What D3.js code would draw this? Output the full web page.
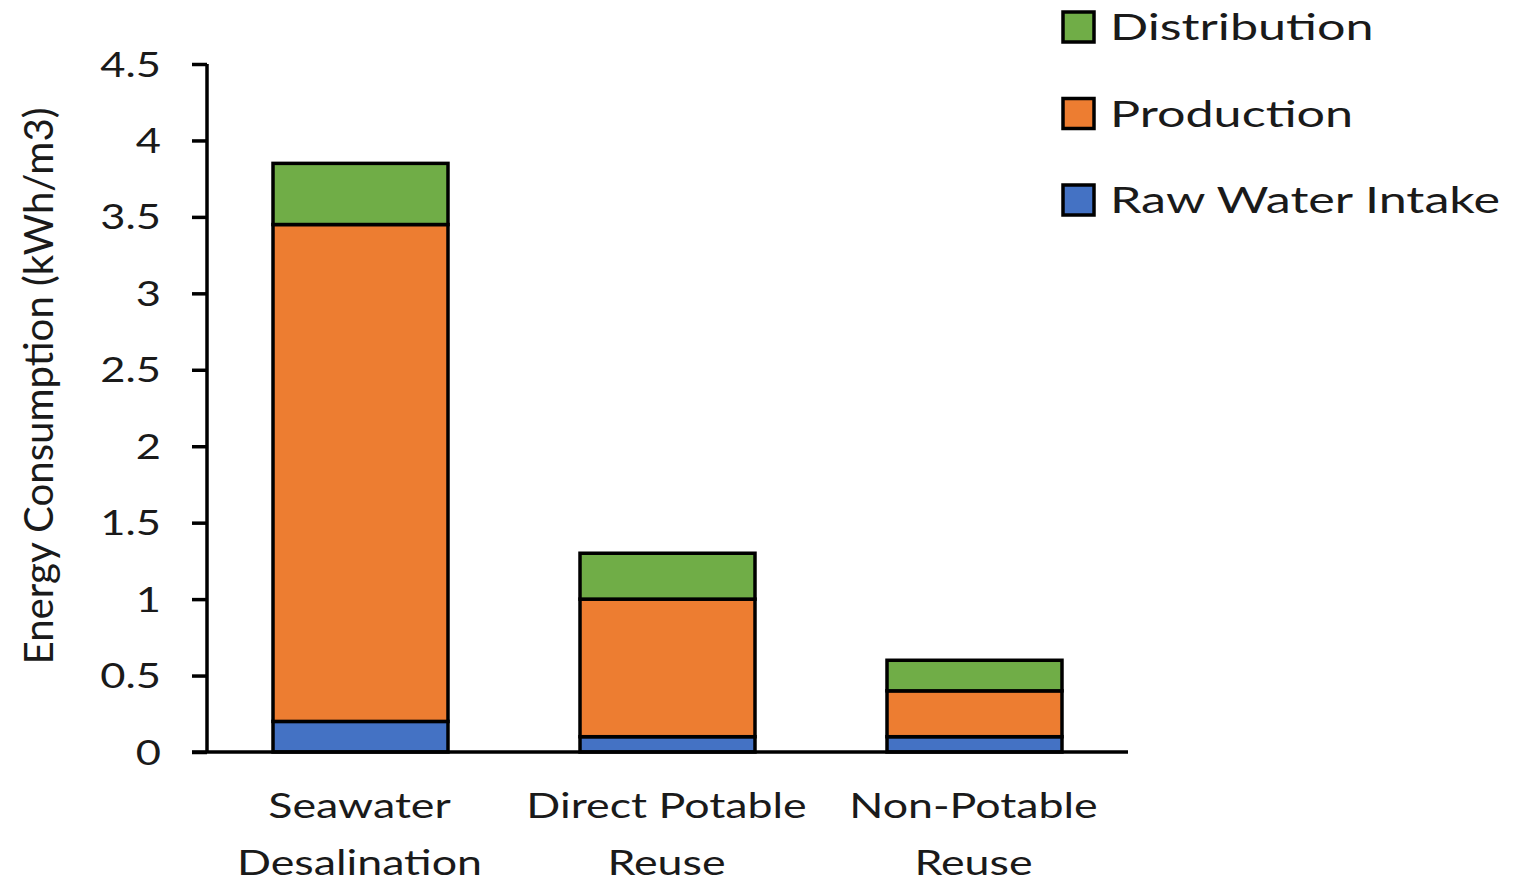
<!DOCTYPE html>
<html>
<head>
<meta charset="utf-8">
<script src="https://cdn.jsdelivr.net/npm/d3@7"></script>
<style>
  html, body { margin: 0; padding: 0; background: #fff; }
  svg { display: block; }
  text { font-family: Lato, "Open Sans", sans-serif; fill: #1a1a1a; }
</style>
</head>
<body>
<svg id="chart" width="1526" height="882"></svg>
<script>
// Energy use per stage of supply, kWh per m3
const categories = [["Seawater", "Desalination"], ["Direct Potable", "Reuse"], ["Non-Potable", "Reuse"]];
const rawWaterIntake = [0.2, 0.1, 0.1];
const production = [3.25, 0.9, 0.3];
const distribution = [0.4, 0.3, 0.2];
const seriesNames = ["Raw Water Intake", "Production", "Distribution"];
const seriesColors = ["#4472C4", "#ED7D31", "#70AD47"];
const yTicks = [0, 0.5, 1, 1.5, 2, 2.5, 3, 3.5, 4, 4.5];
const yTitle = "Energy Consumption (kWh/m3)";

const rows = categories.map((c, i) => ({
  key: i,
  "Raw Water Intake": rawWaterIntake[i],
  "Production": production[i],
  "Distribution": distribution[i]
}));

const svg = d3.select("#chart");
const plot = { left: 207, right: 1128, top: 64, bottom: 752 };

const x = d3.scaleBand()
  .domain(categories.map((c, i) => i))
  .range([plot.left, plot.right])
  .paddingInner(0.43)
  .paddingOuter(0.215);

const y = d3.scaleLinear().domain([0, 4.5]).range([plot.bottom, plot.top]);
const color = d3.scaleOrdinal().domain(seriesNames).range(seriesColors);

// Horizontal stretch for labels, derived from a reference string width
function stretchFor(str, size, width) {
  const t = svg.append("text").style("font-size", size + "px").text(str);
  const k = width / t.node().getComputedTextLength();
  t.remove();
  return k;
}
function stretchText(sel, k) {
  sel.each(function () {
    const w = this.getComputedTextLength();
    d3.select(this).attr("textLength", w * k).attr("lengthAdjust", "spacingAndGlyphs");
  });
}
const catStretch = stretchFor("Desalination", 35, 245);
const legendStretch = stretchFor("Raw Water Intake", 36, 390);

// Stacked bars
const stacked = d3.stack().keys(seriesNames)(rows);
svg.append("g").selectAll("g")
  .data(stacked)
  .join("g")
  .attr("fill", d => color(d.key))
  .selectAll("rect")
  .data(d => d)
  .join("rect")
  .attr("x", d => x(d.data.key))
  .attr("width", x.bandwidth())
  .attr("y", d => y(d[1]))
  .attr("height", d => y(d[0]) - y(d[1]))
  .attr("stroke", "#000")
  .attr("stroke-width", 3.5);

// Y axis
const yAxis = svg.append("g")
  .attr("transform", `translate(${plot.left},0)`)
  .call(d3.axisLeft(y).tickValues(yTicks).tickSize(15).tickPadding(31).tickFormat(d3.format("")));
yAxis.select(".domain").attr("d", `M0,${plot.top}V${plot.bottom}`).attr("stroke", "#000").attr("stroke-width", 3.5);
yAxis.selectAll(".tick line").attr("stroke", "#000").attr("stroke-width", 3.5);
yAxis.selectAll(".tick text")
  .attr("dy", null)
  .attr("y", 12)
  .style("font-size", "34px")
  .style("font-family", "Lato, sans-serif")
  .attr("fill", "#1a1a1a")
  .call(stretchText, catStretch);

// X baseline
svg.append("line")
  .attr("x1", plot.left - 15).attr("x2", plot.right)
  .attr("y1", plot.bottom).attr("y2", plot.bottom)
  .attr("stroke", "#000").attr("stroke-width", 3.5);

// Category labels
const catG = svg.append("g").selectAll("text")
  .data(categories)
  .join("text")
  .attr("text-anchor", "middle")
  .style("font-size", "35px");
catG.selectAll("tspan")
  .data((d, i) => d.map((line, j) => ({ line, j, i })))
  .join("tspan")
  .attr("x", d => x(d.i) + x.bandwidth() / 2 - 1)
  .attr("y", d => 818 + d.j * 57)
  .text(d => d.line)
  .call(stretchText, catStretch);

// Y title
svg.append("text")
  .attr("transform", "translate(53,386) rotate(-90)")
  .attr("text-anchor", "middle")
  .style("font-size", "41px")
  .attr("textLength", 557)
  .attr("lengthAdjust", "spacingAndGlyphs")
  .text(yTitle);

// Legend, listed top-down in reverse stack order
const legendItems = seriesNames.slice().reverse();
const legend = svg.append("g").selectAll("g")
  .data(legendItems)
  .join("g")
  .attr("transform", (d, i) => `translate(1063,${12 + i * 86.5})`);
legend.append("rect")
  .attr("width", 31).attr("height", 30)
  .attr("fill", d => color(d))
  .attr("stroke", "#000").attr("stroke-width", 3.5);
legend.append("text")
  .attr("x", 47).attr("y", 28)
  .style("font-size", "36px")
  .text(d => d)
  .call(stretchText, legendStretch);
</script>
</body>
</html>
